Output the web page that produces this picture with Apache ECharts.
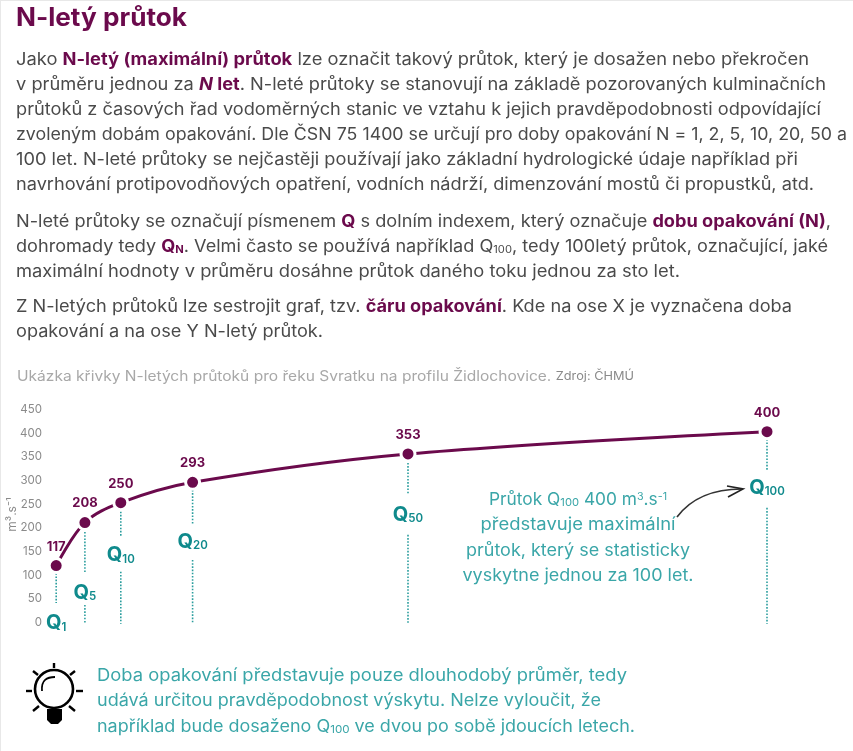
<!DOCTYPE html>
<html><head><meta charset="utf-8">
<style>html,body{margin:0;padding:0;background:#fff}#c{width:853px;height:751px}</style>
<script src="https://cdn.jsdelivr.net/npm/echarts@6/dist/echarts.min.js"></script>
</head><body><div id="c"></div>
<script>
const returnPeriods=[1,5,10,20,50,100];
const flows=[117,208,250,293,353,400];
const qLabels=['1','5','10','20','50','100'];
const qLabelLevels=[-5,60,139,167,224,281];
const dropUpper=[[101,38],[188,101],[231,178],[277,206],[334,268],[384,318]];
const dropLower=[null,[34,-6],[104,-6],[129,-6],[182,-6],[239,-6]];
const yTicks=[0,50,100,150,200,250,300,350,400,450];
const MAROON='#6b0a4c',TEAL='#0f8a8c',TEXT='#4a4a4a',LIGHT='#3aa6a8';
const FF='Inter';
const BS=17;
// [vertical centre, right edge, text]
const bodyLines=[
 [60,809,'Jako {b|N-letý (maximální) průtok} lze označit takový průtok, který je dosažen nebo překročen'],
 [85,826,'v průměru jednou za {bi|N}{b| let}. N-leté průtoky se stanovují na základě pozorovaných kulminačních'],
 [110,821,'průtoků z časových řad vodoměrných stanic ve vztahu k jejich pravděpodobnosti odpovídající'],
 [135,847,'zvoleným dobám opakování. Dle ČSN 75 1400 se určují pro doby opakování N = 1, 2, 5, 10, 20, 50 a'],
 [160,798,'100 let. N-leté průtoky se nejčastěji používají jako základní hydrologické údaje například při'],
 [185,814,'navrhování protipovodňových opatření, vodních nádrží, dimenzování mostů či propustků, atd.'],
 [222,831,'N-leté průtoky se označují písmenem {b|Q} s dolním indexem, který označuje {b|dobu opakování (N)},'],
 [247,828,'dohromady tedy {b|Q}{bs|N}. Velmi často se používá například Q{s|100}, tedy 100letý průtok, označující, jaké'],
 [272,680,'maximální hodnoty v průměru dosáhne průtok daného toku jednou za sto let.'],
 [307,792,'Z N-letých průtoků lze sestrojit graf, tzv. {b|čáru opakování}. Kde na ose X je vyznačena doba'],
 [332,323,'opakování a na ose Y N-letý průtok.']
];
const noteLines=[
 [676,627,'Doba opakování představuje pouze dlouhodobý průměr, tedy'],
 [701,601,'udává určitou pravděpodobnost výskytu. Nelze vyloučit, že'],
 [727,635,'například bude dosaženo Q{s|100} ve dvou po sobě jdoucích letech.']
];
// [vertical centre, full width, text]
const calloutLines=[
 [500,178,'Průtok Q{s|100} 400 m{u|3}.s{u|-1}'],
 [525,195,'představuje maximální'],
 [551,224,'průtok, který se statisticky'],
 [576,231,'vyskytne jednou za 100 let.']
];
const ctx=document.createElement('canvas').getContext('2d');
function widthOf(t,size,rich){
 let w=0;
 t.split(/(\{\w+\|[^}]*\})/).filter(Boolean).forEach(p=>{
  const m=p.match(/^\{(\w+)\|([^}]*)\}$/);
  const st=m?rich[m[1]]:{};
  ctx.font=(st.fontStyle||'normal')+' '+(st.fontWeight||400)+' '+(st.fontSize||size)+'px '+FF;
  w+=ctx.measureText(m?m[2]:p).width;
 });
 return w;
}
function textEl(x,y,w,t,size,color,align,rich){
 return {type:'text',x:x,y:y,scaleX:w/widthOf(t,size,rich),silent:true,
  style:{text:t,fill:color,fontSize:size,fontFamily:FF,align:align,verticalAlign:'middle',rich:rich}};
}
const tok=(fs,col,extra)=>Object.assign({fontFamily:FF,fontSize:fs,fill:col,color:col},extra||{});
const richBody={b:tok(BS,MAROON,{fontWeight:700}),bi:tok(BS,MAROON,{fontWeight:700,fontStyle:'italic'}),
 bs:tok(10.5,MAROON,{fontWeight:700,verticalAlign:'bottom'}),s:tok(10.5,TEXT,{verticalAlign:'bottom'})};
const richT={s:tok(11,LIGHT,{verticalAlign:'bottom'}),u:tok(10.5,LIGHT,{verticalAlign:'top'})};
const richCap={z:tok(11.5,'#8a8a8a')};
const g=[];
g.push({type:'rect',shape:{x:0,y:0,width:853,height:1},style:{fill:'#e8e8e8'},silent:true});
g.push({type:'rect',shape:{x:0,y:0,width:1,height:751},style:{fill:'#e8e8e8'},silent:true});
ctx.font='700 25px '+FF;
g.push({type:'text',x:16,y:18,scaleX:171/ctx.measureText('N-letý průtok').width,silent:true,style:{text:'N-letý průtok',fontFamily:FF,fontWeight:700,fontSize:25,fill:MAROON,verticalAlign:'middle'}});
bodyLines.forEach(l=>g.push(textEl(16,l[0],l[1]-16,l[2],BS,TEXT,'left',richBody)));
g.push(textEl(17,377,617,'Ukázka křivky N-letých průtoků pro řeku Svratku na profilu Židlochovice. {z|Zdroj: ČHMÚ}',14,'#a8a8a8','left',richCap));
calloutLines.forEach(l=>g.push(textEl(578,l[0],l[1],l[2],17,LIGHT,'center',richT)));
noteLines.forEach(l=>g.push(textEl(97,l[0],l[1]-97,l[2],17,LIGHT,'left',richT)));
// arrow
g.push({type:'bezierCurve',silent:true,shape:{x1:677,y1:517,cpx1:692,cpy1:497,cpx2:715,cpy2:489,x2:742,y2:489},style:{fill:'none',stroke:'#333',lineWidth:1.7}});
g.push({type:'polyline',silent:true,shape:{points:[[727,486],[743,489],[728,497]]},style:{fill:'none',stroke:'#222',lineWidth:1.7}});
// bulb icon
g.push({type:'circle',silent:true,shape:{cx:54,cy:689,r:19},style:{fill:'#fff',stroke:'#000',lineWidth:2.6}});
g.push({type:'bezierCurve',silent:true,shape:{x1:42,y1:691,cpx1:41,cpy1:680,cpx2:47,cpy2:677,x2:55,y2:677},style:{fill:'none',stroke:'#000',lineWidth:1.8}});
g.push({type:'polygon',silent:true,shape:{points:[[47,709],[62,709],[62,720],[58,724],[51,724],[47,720]]},style:{fill:'#000'}});
[[54,663,54,668],[33,671,38,675],[75,671,70,675],[26,691,32,691],[76,691,83,691],[33,711,39,706],[75,711,69,706]].forEach(r=>g.push({type:'line',silent:true,shape:{x1:r[0],y1:r[1],x2:r[2],y2:r[3]},style:{stroke:'#000',lineWidth:2.4}}));

const dropData=[];
returnPeriods.forEach((n,i)=>{[dropUpper[i],dropLower[i]].forEach(s=>{if(s){dropData.push([n,s[0]],[n,s[1]],[n,null]);}});});
const chart=echarts.init(document.getElementById('c'),null,{renderer:'canvas'});
chart.setOption({
 animation:false,backgroundColor:'#fff',textStyle:{fontFamily:FF},
 grid:{left:49,right:86,top:408,bottom:130,outerBoundsMode:'none'},
 xAxis:{type:'value',min:0,max:100,show:false},
 yAxis:{type:'value',min:0,max:450,interval:50,name:'m³.s⁻¹',nameLocation:'middle',nameGap:31,nameRotate:90,nameMoveOverlap:false,
  nameTextStyle:{color:'#8a8a8a',fontSize:12,fontFamily:FF},
  axisLine:{show:false},axisTick:{show:false},splitLine:{show:false},
  axisLabel:{margin:7,formatter:v=>yTicks.includes(v)?'{t|'+v+'}':'',
   rich:{t:{color:'#8a8a8a',fontSize:11.5,fontFamily:FF,padding:[3,0,0,0]}}}},
 series:[
  {type:'line',name:'drop',data:dropData,clip:false,symbol:'none',connectNulls:false,silent:true,z:1,lineStyle:{color:'#2a9d9d',width:1.6,type:[1.6,1.6]}},
  {type:'line',name:'Q',data:returnPeriods.map((n,i)=>[n,flows[i]]),smooth:0.35,z:3,symbol:'circle',symbolSize:14,showAllSymbol:true,
   lineStyle:{color:MAROON,width:3},itemStyle:{color:MAROON,borderColor:'#fff',borderWidth:3,opacity:1},
   label:{show:true,position:'top',distance:4,color:MAROON,fontWeight:700,fontSize:13,fontFamily:FF}},
  {type:'scatter',name:'labels',data:returnPeriods.map((n,i)=>[n,qLabelLevels[i]]),symbolSize:0,clip:false,silent:true,z:4,
   itemStyle:{opacity:1},
   label:{show:true,position:'inside',opacity:1,formatter:p=>'{q|Q}{n|'+qLabels[p.dataIndex]+'}',
    rich:{q:{fontFamily:FF,fontWeight:700,fontSize:20,color:TEAL},n:{fontFamily:FF,fontWeight:600,fontSize:11.5,color:TEAL,verticalAlign:'bottom',padding:[8,0,0,0]}}}}
 ],
 graphic:g
});
</script></body></html>
